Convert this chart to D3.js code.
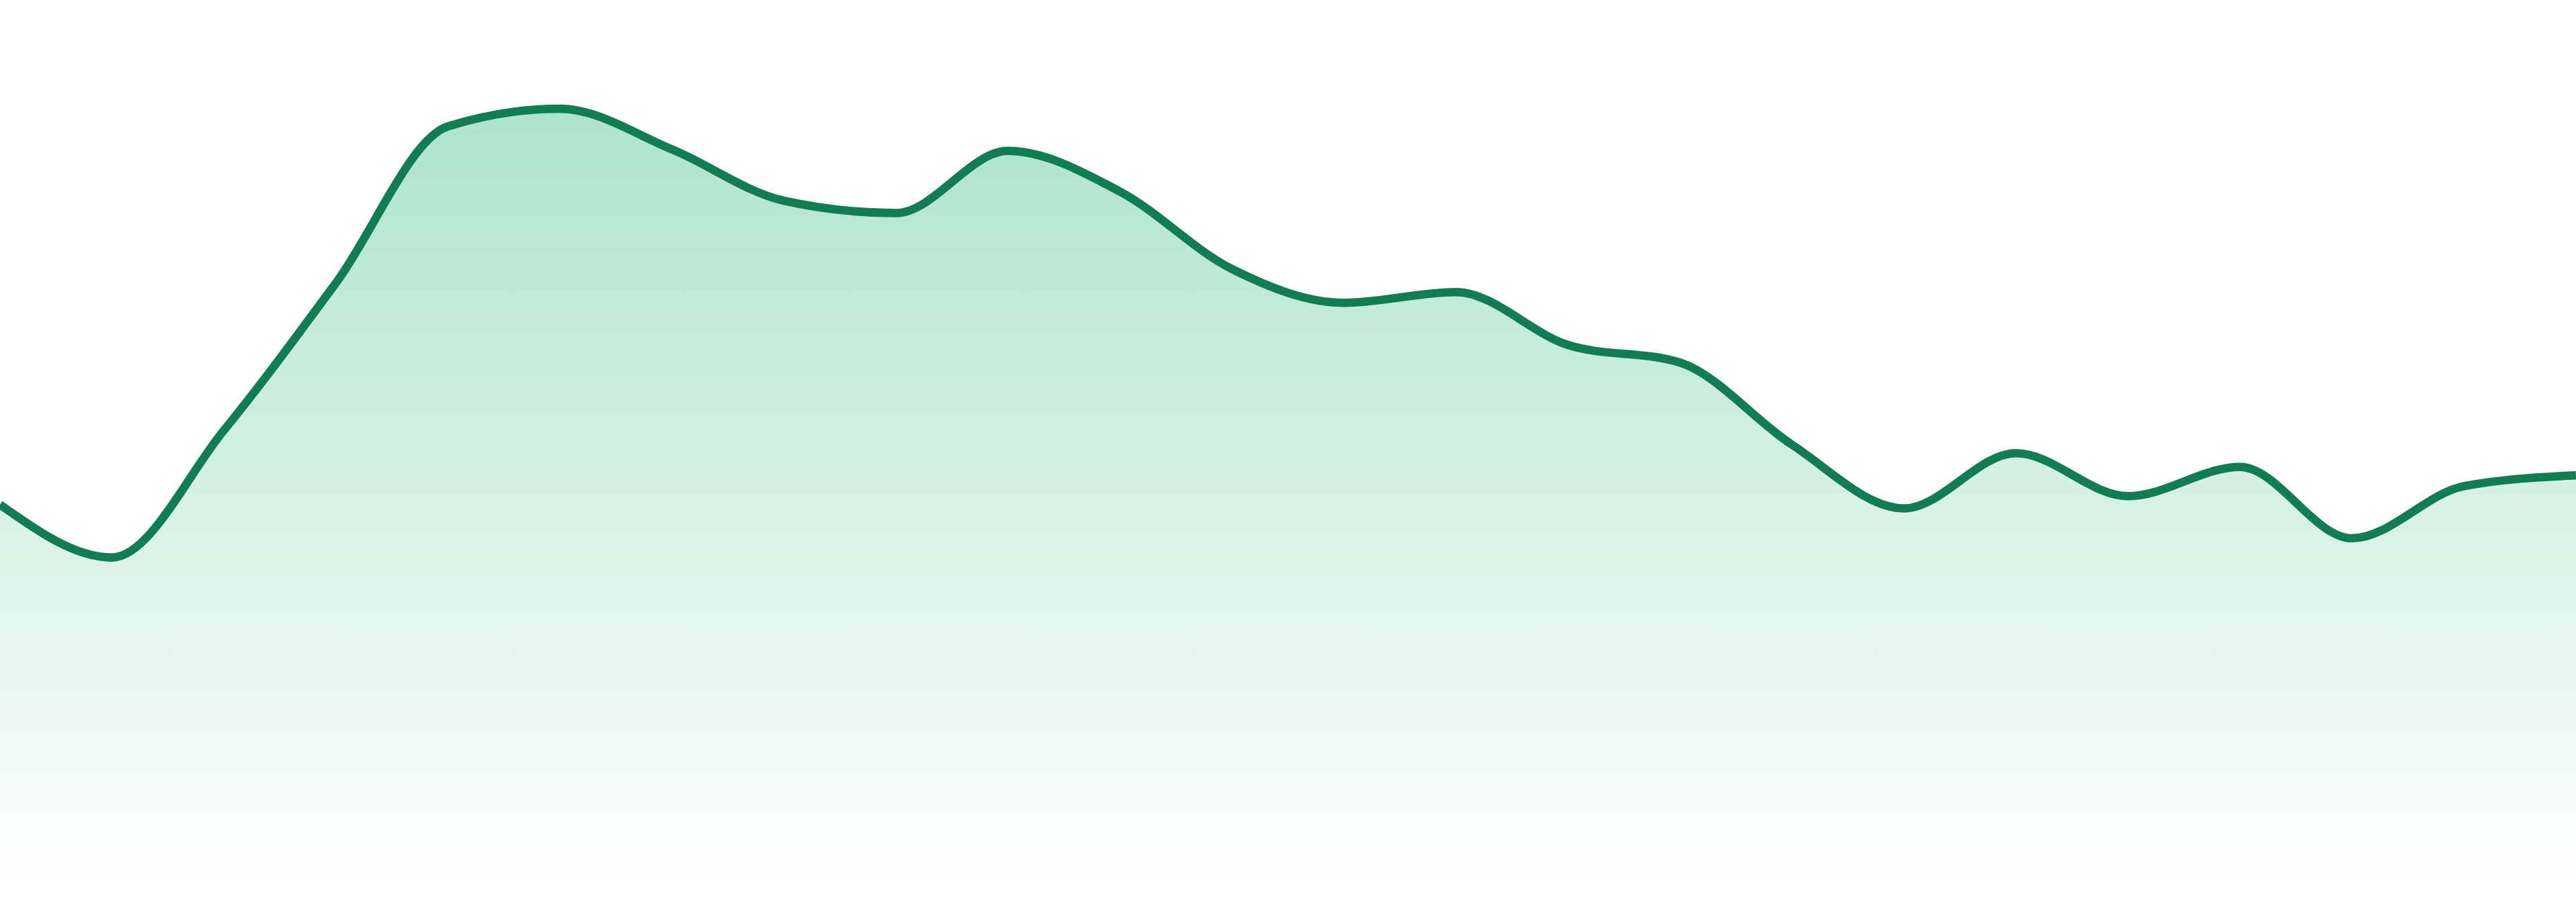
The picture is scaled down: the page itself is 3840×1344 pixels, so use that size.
<!DOCTYPE html>
<html>
<head>
<meta charset="utf-8">
<script src="https://cdn.jsdelivr.net/npm/d3@7"></script>
<style>
    html, body { margin: 0; padding: 0; background: #ffffff; }
    .chart-container { width: 3840px; height: 1344px; }
</style>
</head>
<body>
<div class="chart-container"></div>
<script>
// one point per period
const categories = ["P1", "P2", "P3", "P4", "P5", "P6", "P7", "P8", "P9", "P10", "P11", "P12",
    "P13", "P14", "P15", "P16", "P17", "P18", "P19", "P20", "P21", "P22", "P23", "P24"];
const values = [48.4, 41.5, 58.1, 77.3, 97.7, 100, 94.7, 88.0, 86.4, 94.5, 89.2, 79.1,
    74.7, 76.1, 69.2, 66.9, 56.2, 47.9, 55.1, 49.5, 53.3, 44.0, 50.8, 52.2];
const yDomain = [0, 100];

const margin = { top: 162, right: 0, bottom: 39, left: 0 };
const chartContainer = d3.select(".chart-container").node();
const rect = chartContainer.getBoundingClientRect();
const width = rect.width - margin.left - margin.right;
const height = rect.height - margin.top - margin.bottom;

const data = categories.map((c, i) => ({ category: c, value: values[i] }));

const svg = d3.select(".chart-container")
    .append("svg")
    .attr("width", width + margin.left + margin.right)
    .attr("height", height + margin.top + margin.bottom)
    .append("g")
    .attr("transform", `translate(${margin.left}, ${margin.top})`);

const xScale = d3.scalePoint()
    .domain(categories)
    .range([0, width]);

const yScale = d3.scaleLinear()
    .domain(yDomain)
    .range([height, 0]);

const gradient = svg.append("defs")
    .append("linearGradient")
    .attr("id", "gradient")
    .attr("gradientUnits", "userSpaceOnUse")
    .attr("x1", 0)
    .attr("y1", yScale(d3.max(values)))
    .attr("x2", 0)
    .attr("y2", height);

gradient.append("stop")
    .attr("offset", "0%")
    .attr("stop-color", "#3cbe82")
    .attr("stop-opacity", 0.42);

gradient.append("stop")
    .attr("offset", "100%")
    .attr("stop-color", "#3cbe82")
    .attr("stop-opacity", 0.01);

const area = d3.area()
    .x(d => xScale(d.category))
    .y0(height)
    .y1(d => yScale(d.value))
    .curve(d3.curveMonotoneX);

const line = d3.line()
    .x(d => xScale(d.category))
    .y(d => yScale(d.value))
    .curve(d3.curveMonotoneX);

svg.append("path")
    .datum(data)
    .attr("d", area)
    .attr("fill", "url(#gradient)");

svg.append("path")
    .datum(data)
    .attr("d", line)
    .attr("fill", "none")
    .attr("stroke", "#127c52")
    .attr("stroke-width", 12.5)
    .attr("stroke-linejoin", "round");
</script>
</body>
</html>
